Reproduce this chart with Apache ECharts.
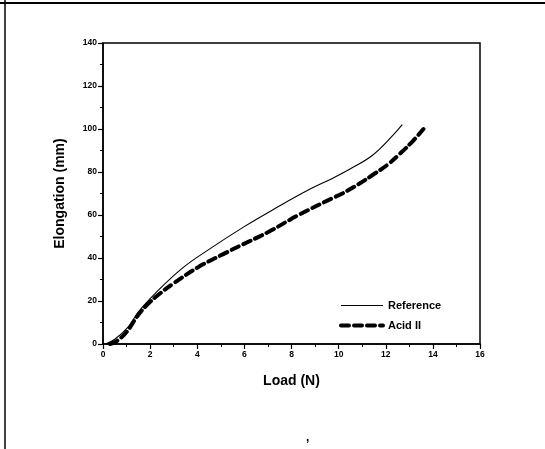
<!DOCTYPE html>
<html><head><meta charset="utf-8">
<script src="https://cdn.jsdelivr.net/npm/echarts@6/dist/echarts.min.js"></script>
<style>html,body{margin:0;padding:0;background:#fff}#c{width:545px;height:449px}</style>
</head><body><div id="c"></div>
<script>
const xTicks = [0, 2, 4, 6, 8, 10, 12, 14, 16];
const yTicks = [0, 20, 40, 60, 80, 100, 120, 140];
const refLoad = [0.1, 0.5, 1.08, 1.51, 2.23, 3.37, 4.5, 6.01, 7.3, 8.73, 9.73, 10.5, 11.44, 12.3, 12.7];
const refElong = [0, 2.2, 8.1, 15.1, 23.7, 35.3, 44, 54.7, 63, 71.7, 77, 81.5, 87.8, 97, 102];
const acidLoad = [0.3, 0.6, 1.01, 1.44, 1.87, 2.44, 3.01, 4.08, 5.23, 5.87, 7, 8.3, 9.73, 10.16, 10.87, 11.44, 12.09, 12.6, 13.16, 13.6];
const acidElong = [0, 1.5, 5.7, 12.7, 18.2, 23.7, 28.3, 36, 42.5, 46, 52, 60, 67.8, 70, 74.5, 78.6, 83.5, 88.5, 94.5, 100];
const seriesNames = ['Reference', 'Acid II'];

const chart = echarts.init(document.getElementById('c'), null, {renderer: 'canvas'});
const font = 'Liberation Sans, Arial, sans-serif';
const axisCommon = {
  axisLine: {show: true, lineStyle: {color: '#000', width: 1.5}},
  axisTick: {show: true, inside: false, length: 5, lineStyle: {color: '#000', width: 1.2}},
  minorTick: {show: true, splitNumber: 2, length: 3, lineStyle: {color: '#000', width: 1}},
  splitLine: {show: false},
  axisLabel: {color: '#000', fontFamily: font, fontWeight: 'bold', fontSize: 8.5},
  nameTextStyle: {color: '#000', fontFamily: font, fontWeight: 'bold', fontSize: 14},
  nameMoveOverlap: false
};
chart.setOption({
  animation: false,
  backgroundColor: '#fff',
  grid: {left: 103, right: 65, top: 43, bottom: 105, show: true, borderColor: '#000', borderWidth: 1.5, backgroundColor: 'transparent'},
  xAxis: Object.assign({}, axisCommon, {
    type: 'value', min: xTicks[0], max: xTicks[xTicks.length - 1], interval: 2,
    name: 'Load (N)', nameLocation: 'middle', nameGap: 30,
    axisLabel: Object.assign({}, axisCommon.axisLabel, {margin: 6})
  }),
  yAxis: Object.assign({}, axisCommon, {
    type: 'value', min: yTicks[0], max: yTicks[yTicks.length - 1], interval: 20,
    name: 'Elongation (mm)', nameLocation: 'middle', nameGap: 36,
    axisLabel: Object.assign({}, axisCommon.axisLabel, {margin: 6})
  }),
  legend: {
    orient: 'vertical', left: 334, top: 295, itemWidth: 42, itemHeight: 12, itemGap: 9,
    textStyle: {color: '#000', fontFamily: font, fontWeight: 'bold', fontSize: 11},
    itemStyle: {opacity: 0},
    data: [
      {name: seriesNames[0], lineStyle: {width: 1.1}},
      {name: seriesNames[1], lineStyle: {width: 4}}
    ]
  },
  series: [
    {name: seriesNames[0], type: 'line', smooth: 0.4, symbol: 'none',
     lineStyle: {color: '#000', width: 1.1}, itemStyle: {color: '#000'},
     data: refLoad.map((x, i) => [x, refElong[i]])},
    {name: seriesNames[1], type: 'line', smooth: 0.4, symbol: 'none',
     lineStyle: {color: '#000', width: 4, type: [8, 5], cap: 'round'}, itemStyle: {color: '#000'},
     data: acidLoad.map((x, i) => [x, acidElong[i]])}
  ],
  graphic: [
    {type: 'line', shape: {x1: 0, y1: 3, x2: 545, y2: 3}, style: {stroke: '#000', lineWidth: 2}},
    {type: 'line', shape: {x1: 5, y1: 0, x2: 5, y2: 449}, style: {stroke: '#000', lineWidth: 1.5}},
    {type: 'text', left: 306, top: 432, style: {text: ',', fill: '#000', font: 'bold 12px ' + font}}
  ]
});
</script></body></html>
